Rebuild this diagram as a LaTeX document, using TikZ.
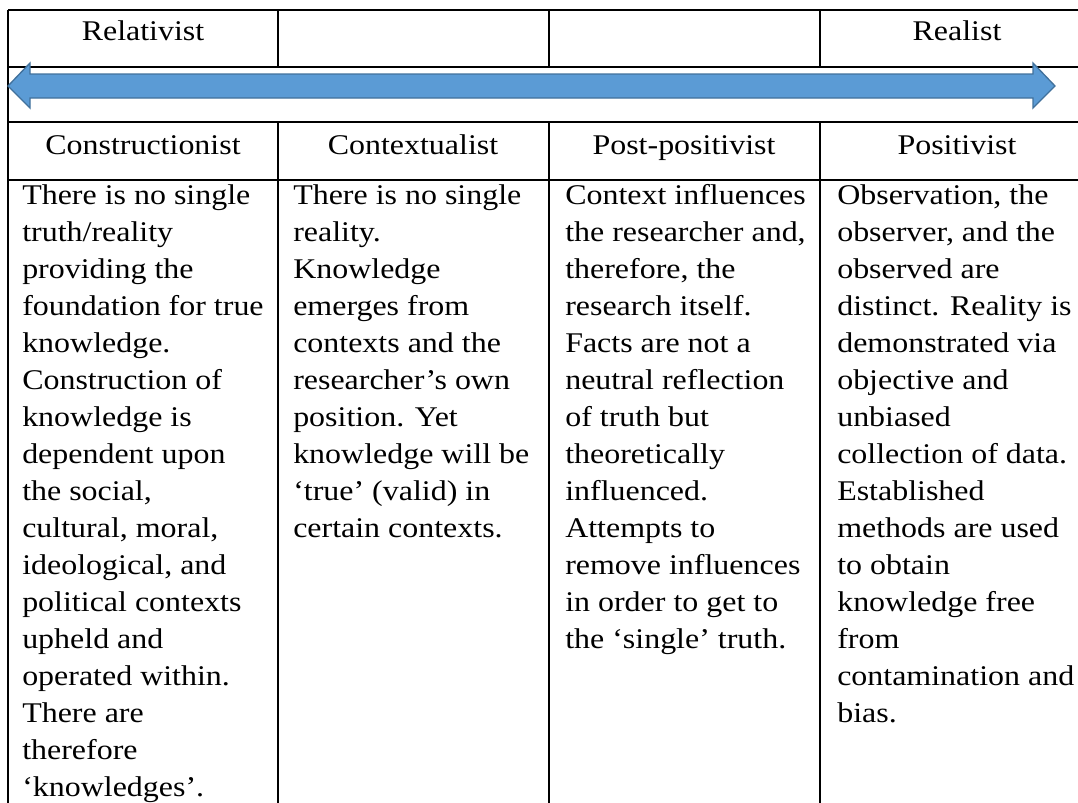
\documentclass[tikz,border=0pt]{standalone}
\usepackage{fontspec}
\setmainfont{Liberation Serif}[FakeStretch=1.12]
\definecolor{arrowfill}{HTML}{5B9BD5}
\definecolor{arrowedge}{HTML}{41719C}
\begin{document}
\begin{tikzpicture}[x=0.75pt,y=-0.75pt,
  rule/.style={line width=1.5pt, black},
  headtxt/.style={anchor=base, inner sep=0pt, font=\fontsize{21.4}{27.75}\selectfont},
  bodytxt/.style={anchor=base west, inner sep=0pt, font=\fontsize{21.4}{27.75}\selectfont},
  band/.style={fill=arrowfill, draw=arrowedge, line width=1pt, line join=miter}]
\useasboundingbox (0,0) rectangle (1078,803);
\clip (0,0) rectangle (1078,803);

% table rules
\foreach \yy in {10,67,122,180} \draw[rule] (8,\yy) -- (1100,\yy);
\draw[rule] (8,10) -- (8,820);
\foreach \xx in {278,549,820} {
  \draw[rule] (\xx,10) -- (\xx,67);
  \draw[rule] (\xx,122) -- (\xx,820);
}

% double-headed arrow across the second row
\draw[band] (8,86) -- (30,63) -- (30,74) -- (1033,74) -- (1033,63) -- (1055,86)
  -- (1033,108) -- (1033,98) -- (30,98) -- (30,108) -- cycle;

% scale ends
\node[headtxt] (rel) at (143,40) {Relativist};
\node[headtxt] (real) at (957,40) {Realist};

% column headings
\node[headtxt] (h1) at (143,154) {Constructionist};
\node[headtxt] (h2) at (413,154) {Contextualist};
\node[headtxt] (h3) at (684,154) {Post-positivist};
\node[headtxt] (h4) at (957,154) {Positivist};

% column bodies
\node[bodytxt] (b1) at (22,204) {\parbox[t]{195pt}{\raggedright
There is no single\\ truth/reality\\ providing the\\ foundation for true\\
knowledge.\\ Construction of\\ knowledge is\\ dependent upon\\ the social,\\
cultural, moral,\\ ideological, and\\ political contexts\\ upheld and\\
operated within.\\ There are\\ therefore\\ ‘knowledges’.}};

\node[bodytxt] (b2) at (293,204) {\parbox[t]{195pt}{\raggedright
There is no single\\ reality.\\ Knowledge\\ emerges from\\ contexts and the\\
researcher’s own\\ position. Yet\\ knowledge will be\\ ‘true’ (valid) in\\
certain contexts.}};

\node[bodytxt] (b3) at (565,204) {\parbox[t]{195pt}{\raggedright
Context influences\\ the researcher and,\\ therefore, the\\ research itself.\\
Facts are not a\\ neutral reflection\\ of truth but\\ theoretically\\
influenced.\\ Attempts to\\ remove influences\\ in order to get to\\
the ‘single’ truth.}};

\node[bodytxt] (b4) at (837,204) {\parbox[t]{195pt}{\raggedright
Observation, the\\ observer, and the\\ observed are\\ distinct. Reality is\\
demonstrated via\\ objective and\\ unbiased\\ collection of data.\\
Established\\ methods are used\\ to obtain\\ knowledge free\\ from\\
contamination and\\ bias.}};
\end{tikzpicture}
\end{document}
